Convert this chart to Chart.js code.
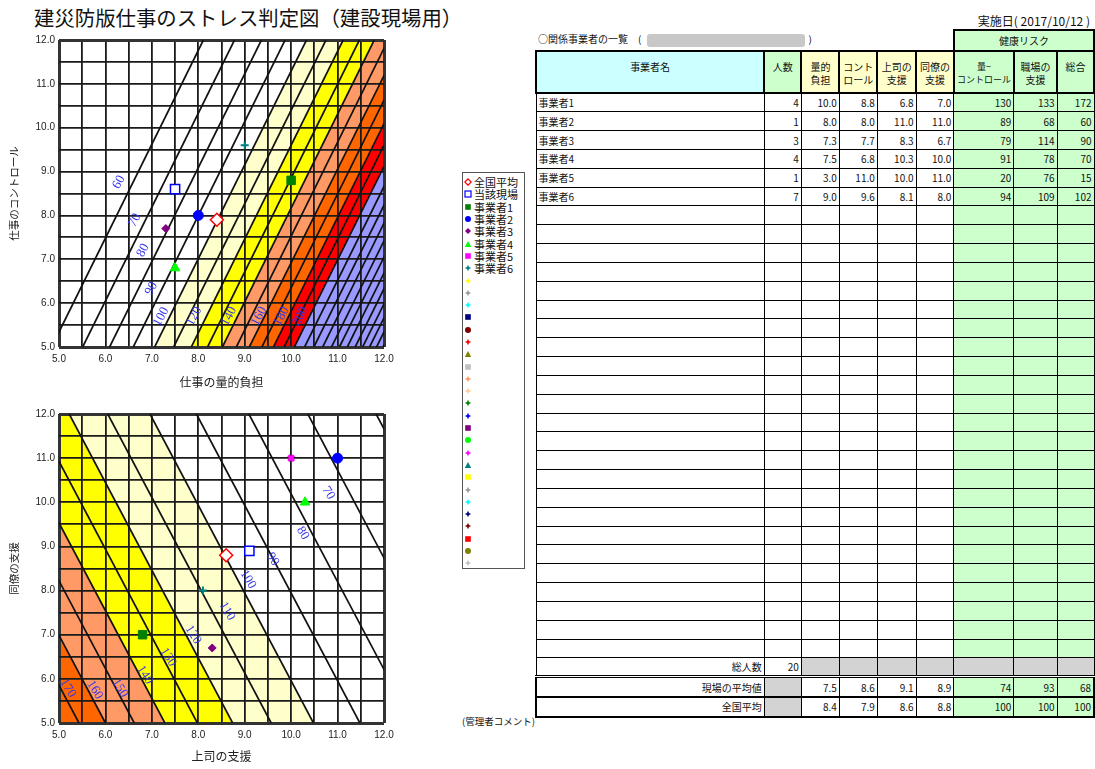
<!DOCTYPE html>
<html><head><meta charset="utf-8">
<script src="https://cdn.jsdelivr.net/npm/chart.js@4.4.0/dist/chart.umd.min.js"></script>
<style>
html,body{margin:0;padding:0;background:#fff;}
body{width:1095px;height:769px;position:relative;overflow:hidden;font-family:"Noto Sans CJK JP",sans-serif;color:#111;}
#title{position:absolute;left:34px;top:3px;font-size:20.4px;line-height:28px;white-space:nowrap;color:#111;}
canvas{position:absolute;}
#c1{left:0;top:30px;}
#c2{left:0;top:400px;}
#legend{position:absolute;left:462px;top:172px;width:63px;height:397px;border:1px solid #555;box-sizing:border-box;padding-top:3px;}
.li{height:12.3px;display:flex;align-items:center;white-space:nowrap;font-size:11px;line-height:12px;}
.li svg{margin-left:1px;margin-right:2px;flex:none;}
#date{position:absolute;right:5px;top:12px;font-size:12px;white-space:nowrap;}
#tbl{position:absolute;left:535px;top:29px;border-collapse:collapse;table-layout:fixed;font-size:10px;line-height:11px;}
#tbl td{border:1px solid #000;padding:0 2px;overflow:hidden;white-space:nowrap;}
#tbl td.n{text-align:right;}
#tbl tr.d{height:18.83px;}
#tbl td.g{background:#CCFFCC;}
#tbl td.y{background:#FFFFCC;}
#tbl td.c{background:#CCFFFF;}
#tbl td.gr{background:#D3D3D3;}
#tbl tr.h td{vertical-align:top;text-align:center;padding-top:8px;line-height:13px;font-size:10px;}
#tbl tr.top td.blank{border:none;text-align:left;font-size:10px;padding-left:2px;}
.redact{display:inline-block;width:158px;height:13px;background:#C8C8C8;border-radius:3px;vertical-align:middle;margin:0 3px 0 6px;}
#comment{position:absolute;left:462px;top:714px;font-size:9.5px;}
</style></head>
<body>
<div id="title">建災防版仕事のストレス判定図（建設現場用）</div>
<canvas id="c1" width="400" height="368"></canvas>
<canvas id="c2" width="400" height="369"></canvas>
<div id="legend"></div>
<div id="date">実施日( 2017/10/12 )</div>
<table id="tbl"></table>
<div id="comment">(管理者コメント)</div>
<script>
// ---------------- data ----------------
const axisTickLabels = ['5.0','6.0','7.0','8.0','9.0','10.0','11.0','12.0'];
const companyNames = ['事業者1','事業者2','事業者3','事業者4','事業者5','事業者6'];
const headcount   = [4, 1, 3, 4, 1, 7];
const workload    = [10.0, 8.0, 7.3, 7.5, 3.0, 9.0];
const control     = [8.8, 8.0, 7.7, 6.8, 11.0, 9.6];
const bossSupport = [6.8, 11.0, 8.3, 10.3, 10.0, 8.1];
const peerSupport = [7.0, 11.0, 6.7, 10.0, 11.0, 8.0];
const riskLoadCtrl = [130, 89, 79, 91, 20, 94];
const riskSupport  = [133, 68, 114, 78, 76, 109];
const riskTotal    = [172, 60, 90, 70, 15, 102];
const totalHeadcount = 20;
const siteAvgScores = [7.5, 8.6, 9.1, 8.9];
const siteAvgRisk   = [74, 93, 68];
const nationalScores = [8.4, 7.9, 8.6, 8.8];
const nationalRisk   = [100, 100, 100];
const blankRows = 24;

// contour lines of the upper chart: level, load value where it meets control 5.0 and control 12.0
const topLevels = [60,70,80,90,100,110,120,130,140,150,160,170,180,190,200,210,220,230,240,250,260,270,280,290,300,310];
const topXAtLow  = [4.84,5.51,6.09,6.60,7.06,7.47,7.85,8.20,8.52,8.82,9.10,9.37,9.62,9.85,10.07,10.29,10.49,10.68,10.87,11.04,11.21,11.38,11.54,11.69,11.84,11.98];
const topXAtHigh = [8.11,8.78,9.36,9.87,10.33,10.75,11.12,11.47,11.79,12.09,12.38,12.64,12.89,13.12,13.35,13.56,13.76,13.95,14.14,14.32,14.49,14.65,14.81,14.96,15.11,15.25];
const topZoneLevels = [200,180,160,140,120,100];
const topZoneColors = ['#9999FF','#FF0000','#FF6600','#FF9966','#FFFF00','#FFFFCC'];
const topLabelText = ['60','70','80','90','100','120','140','160','180','200'];
const topLabelX = [6.29,6.63,6.81,6.99,7.20,7.91,8.66,9.31,9.79,10.19];
const topLabelY = [8.76,7.89,7.20,6.33,5.69,5.70,5.70,5.70,5.70,5.70];

// contour lines of the lower chart: level, boss support where it meets peer 12.0 and peer 5.0
const botLevels = [60,70,80,90,100,110,120,130,140,150,160,170];
const botXAtHigh = [11.83,10.36,9.09,7.96,6.96,6.05,5.22,4.46,3.76,3.10,2.48,1.91];
const botXAtLow  = [15.35,13.88,12.61,11.48,10.48,9.57,8.74,7.98,7.28,6.62,6.00,5.43];
const botZoneLevels = [160,140,120,100];
const botZoneColors = ['#FF6600','#FF9966','#FFFF00','#FFFFCC'];
const botLabelText = ['70','80','90','100','110','120','130','140','150','160','170'];
const botLabelX = [10.80,10.25,9.60,9.07,8.62,7.89,7.35,6.85,6.31,5.77,5.19];
const botLabelY = [10.21,9.30,8.71,8.25,7.53,7.00,6.49,6.09,5.79,5.75,5.79];

// markers
const seriesNames = ['全国平均','当該現場'].concat(companyNames);
const markerStyle = [
  {pointStyle:'rectRot', r:6.5, bg:'#FFFFFF', bc:'#FF0000', bw:1.5},
  {pointStyle:'rect', r:6.5, bg:'#FFFFFF', bc:'#0000FF', bw:1.5},
  {pointStyle:'rect', r:6, bg:'#008000', bc:'#008000', bw:1},
  {pointStyle:'circle', r:5, bg:'#0000FF', bc:'#0000FF', bw:1},
  {pointStyle:'rectRot', r:4, bg:'#800080', bc:'#800080', bw:1},
  {pointStyle:'triangle', r:5.5, bg:'#00FF00', bc:'#00FF00', bw:1},
  {pointStyle:'crossRot', r:4, bg:'#FF00FF', bc:'#FF00FF', bw:3},
  {pointStyle:'cross', r:4, bg:'#008080', bc:'#008080', bw:2}
];

// ---------------- charts ----------------
const labelPlugin = {
  id: 'contourLabels',
  afterDatasetsDraw(chart, args, o) {
    const {ctx} = chart, xs = chart.scales.x, ys = chart.scales.y;
    ctx.save();
    ctx.font = '13px "Liberation Serif"';
    ctx.fillStyle = '#3535ee';
    ctx.textAlign = 'center'; ctx.textBaseline = 'middle';
    o.text.forEach((t, i) => {
      ctx.save();
      ctx.translate(xs.getPixelForValue(o.xs[i]), ys.getPixelForValue(o.ys[i]));
      ctx.rotate(o.angle * Math.PI / 180);
      ctx.fillText(t, 0, 0);
      ctx.restore();
    });
    ctx.restore();
  }
};

function pointDatasets(xVals, yVals) {
  return seriesNames.map((n, i) => ({
    label: n,
    data: [{x: xVals[i], y: yVals[i]}],
    showLine: false,
    pointStyle: markerStyle[i].pointStyle,
    pointRadius: markerStyle[i].r,
    pointBackgroundColor: markerStyle[i].bg,
    pointBorderColor: markerStyle[i].bc,
    pointBorderWidth: markerStyle[i].bw
  }));
}

function makeChart(id, o) {
  const datasets = [];
  datasets.push(...pointDatasets(o.px, o.py));
  o.levels.forEach((lv, i) => {
    const a = {x: o.lowX[i], y: 5}, b = {x: o.highX[i], y: 12};
    datasets.push({label: 'c' + lv, data: a.x < b.x ? [a, b] : [b, a],
      borderColor: '#111', borderWidth: 1.7, pointRadius: 0, fill: false});
  });
  o.zones.forEach((lv, i) => {
    const k = o.levels.indexOf(lv);
    const a = {x: o.lowX[k], y: 5}, b = {x: o.highX[k], y: 12};
    const data = o.rising ? [a, b, {x: 40, y: 12}] : [{x: -40, y: 12}, b, a];
    datasets.push({label: 'z' + lv, data, borderColor: 'rgba(0,0,0,0)', borderWidth: 0,
      pointRadius: 0, backgroundColor: o.zoneColors[i], fill: 'start'});
  });
  const tickFont = {family: 'Liberation Sans', size: 10};
  const edge = c => c.tick && (c.tick.value === 5 || c.tick.value === 12);
  const gridW = c => edge(c) ? 3 : 1.8;
  const gridC = c => edge(c) ? '#333' : '#1a1a1a';
  const tickCb = v => Number.isInteger(v) ? axisTickLabels[v - 5] : '';
  return new Chart(document.getElementById(id), {
    type: 'line',
    data: {datasets},
    options: {
      responsive: false, animation: false, devicePixelRatio: 1,
      layout: {padding: {top: o.padTop, right: 16, left: 0, bottom: 0}},
      plugins: {legend: {display: false}, tooltip: {enabled: false},
        filler: {drawTime: 'beforeDraw'},
        contourLabels: {text: o.lt, xs: o.lx, ys: o.ly, angle: o.angle}},
      scales: {
        x: {type: 'linear', min: 5, max: 12,
          ticks: {stepSize: 0.5, autoSkip: false, maxRotation: 0, padding: 6, font: tickFont, color: '#222', callback: tickCb},
          grid: {color: gridC, lineWidth: gridW, drawTicks: false},
          border: {display: false},
          title: {display: true, text: o.xTitle, color: '#222', font: {family: 'Noto Sans CJK JP', size: 12}, padding: {top: 0, bottom: o.xTitlePad}},
          afterFit: s => { s.height = o.xAxisH; }},
        y: {type: 'linear', min: 5, max: 12,
          ticks: {stepSize: 0.5, autoSkip: false, padding: 4, font: tickFont, color: '#222', callback: tickCb},
          grid: {color: gridC, lineWidth: gridW, drawTicks: false},
          border: {display: false},
          title: {display: true, text: o.yTitle, color: '#222', font: {family: 'Noto Sans CJK JP', size: 10.5}, padding: {top: 8, bottom: 0}},
          afterFit: s => { s.width = 59; }}
      }
    },
    plugins: [labelPlugin]
  });
}

makeChart('c1', {
  px: [nationalScores[0], siteAvgScores[0]].concat(workload),
  py: [nationalScores[1], siteAvgScores[1]].concat(control),
  levels: topLevels, lowX: topXAtLow, highX: topXAtHigh, rising: true,
  zones: topZoneLevels, zoneColors: topZoneColors,
  lt: topLabelText, lx: topLabelX, ly: topLabelY, angle: -62,
  xTitle: '仕事の量的負担', yTitle: '仕事のコントロール',
  padTop: 9, xAxisH: 51, xTitlePad: 8
});
makeChart('c2', {
  px: [nationalScores[2], siteAvgScores[2]].concat(bossSupport),
  py: [nationalScores[3], siteAvgScores[3]].concat(peerSupport),
  levels: botLevels, lowX: botXAtLow, highX: botXAtHigh, rising: false,
  zones: botZoneLevels, zoneColors: botZoneColors,
  lt: botLabelText, lx: botLabelX, ly: botLabelY, angle: 58,
  xTitle: '上司の支援', yTitle: '同僚の支援',
  padTop: 14, xAxisH: 46, xTitlePad: 5
});

// ---------------- legend ----------------
const legendShapes = ['dh','sh','s','c','d','t','s','p'];
const legendColors = ['#FF0000','#0000FF','#008000','#0000FF','#800080','#00FF00','#FF00FF','#008080'];
const blankShapes = ['p','p','p','s','c','p','t','s','p','p','p','p','s','c','p','t','s','p','p','p','p','s','c','p'];
const blankColors = ['#FFFF00','#999999','#00FFFF','#000080','#800000','#FF0000','#808000','#C0C0C0','#FF9966','#FFCC99','#008000','#0000FF','#800080','#00FF00','#FF00FF','#008080','#FFFF00','#999999','#00FFFF','#000080','#800000','#FF0000','#808000','#C0C0C0'];
function svgMarker(s, c) {
  let body = '';
  if (s === 'dh') body = `<polygon points="4,0.8 7.2,4 4,7.2 0.8,4" fill="#fff" stroke="${c}" stroke-width="1.2"/>`;
  else if (s === 'sh') body = `<rect x="1" y="1" width="6" height="6" fill="#fff" stroke="${c}" stroke-width="1.2"/>`;
  else if (s === 's') body = `<rect x="1.2" y="1.2" width="5.6" height="5.6" fill="${c}"/>`;
  else if (s === 'c') body = `<circle cx="4" cy="4" r="3" fill="${c}"/>`;
  else if (s === 'd') body = `<polygon points="4,1 7,4 4,7 1,4" fill="${c}"/>`;
  else if (s === 't') body = `<polygon points="4,1 7.2,7 0.8,7" fill="${c}"/>`;
  else body = `<polygon points="4,0.8 5,3 7.2,4 5,5 4,7.2 3,5 0.8,4 3,3" fill="${c}"/>`;
  return `<svg width="8" height="8" viewBox="0 0 8 8">${body}</svg>`;
}
let lg = '';
seriesNames.forEach((n, i) => { lg += `<div class="li">${svgMarker(legendShapes[i], legendColors[i])}<span>${n}</span></div>`; });
blankShapes.forEach((s, i) => { lg += `<div class="li">${svgMarker(s, blankColors[i])}</div>`; });
document.getElementById('legend').innerHTML = lg;

// ---------------- table ----------------
const colW = [241, 38, 39, 38, 39, 38, 44, 44, 38];
const f1 = v => v.toFixed(1);
let t = '<colgroup>' + colW.map(w => `<col style="width:${w}px">`).join('') + '</colgroup>';
t += `<tr class="top" style="height:21px"><td class="blank" colspan="6">○関係事業者の一覧　(<span class="redact"></span>)</td>` +
     `<td class="g" colspan="3" style="text-align:center;border:2px solid #000;font-size:10px">健康リスク</td></tr>`;
t += `<tr class="h" style="height:42px"><td class="c" style="border:2px solid #000">事業者名</td><td class="g" style="border:2px solid #000">人数</td>` +
     `<td class="y" style="border:2px solid #000">量的<br>負担</td><td class="y" style="border:2px solid #000">コント<br>ロール</td>` +
     `<td class="y" style="border:2px solid #000">上司の<br>支援</td><td class="y" style="border:2px solid #000">同僚の<br>支援</td>` +
     `<td class="g" style="border:2px solid #000;font-size:9px">量−<br>コントロール</td><td class="g" style="border:2px solid #000">職場の<br>支援</td><td class="g" style="border:2px solid #000">総合</td></tr>`;
companyNames.forEach((n, i) => {
  t += `<tr class="d"><td>${n}</td><td class="n">${headcount[i]}</td><td class="n">${f1(workload[i])}</td><td class="n">${f1(control[i])}</td>` +
       `<td class="n">${f1(bossSupport[i])}</td><td class="n">${f1(peerSupport[i])}</td>` +
       `<td class="n g">${riskLoadCtrl[i]}</td><td class="n g">${riskSupport[i]}</td><td class="n g">${riskTotal[i]}</td></tr>`;
});
for (let r = 0; r < blankRows; r++) {
  t += `<tr class="d"><td></td><td></td><td></td><td></td><td></td><td></td><td class="g"></td><td class="g"></td><td class="g"></td></tr>`;
}
t += `<tr style="height:19px"><td class="n">総人数</td><td class="n">${totalHeadcount}</td>` + '<td class="gr"></td>'.repeat(7) + '</tr>';
t += `<tr style="height:20px;border:2px solid #000;border-top:3px double #000"><td class="n">現場の平均値</td><td class="gr"></td>` +
     siteAvgScores.map(v => `<td class="n">${f1(v)}</td>`).join('') + siteAvgRisk.map(v => `<td class="n g">${v}</td>`).join('') + '</tr>';
t += `<tr style="height:20px;border:2px solid #000"><td class="n">全国平均</td><td class="gr"></td>` +
     nationalScores.map(v => `<td class="n">${f1(v)}</td>`).join('') + nationalRisk.map(v => `<td class="n g">${v}</td>`).join('') + '</tr>';
document.getElementById('tbl').innerHTML = t;
</script>
</body></html>
